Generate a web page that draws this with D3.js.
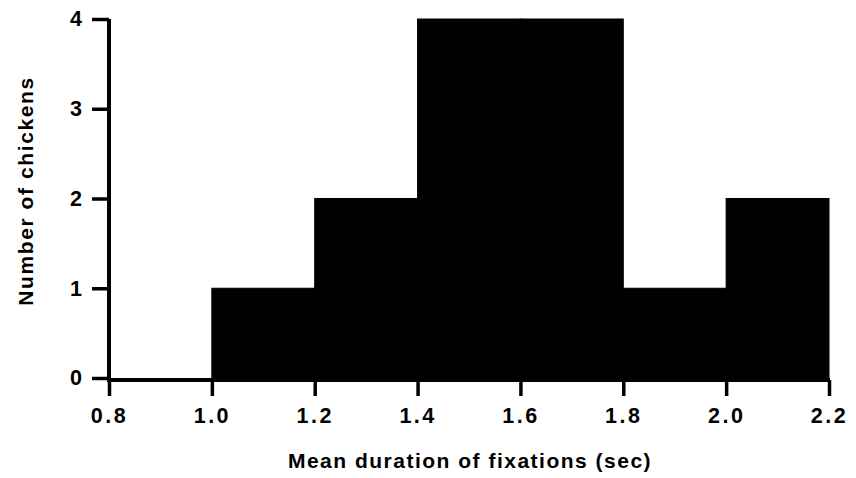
<!DOCTYPE html>
<html><head><meta charset="utf-8">
<script src="https://cdn.jsdelivr.net/npm/d3@7"></script>
<style>body{margin:0;background:#fff}svg{display:block}</style>
</head><body>
<script>
const binStarts = [0.8, 1.0, 1.2, 1.4, 1.6, 1.8, 2.0];
const binWidth = 0.2;
const counts = [0, 1, 2, 4, 4, 1, 2];
const xTicks = [0.8, 1.0, 1.2, 1.4, 1.6, 1.8, 2.0, 2.2];
const yTicks = [0, 1, 2, 3, 4];
const xTitle = "Mean duration of fixations (sec)";
const yTitle = "Number of chickens";

const W = 856, H = 478;
const svg = d3.select("body").append("svg").attr("width", W).attr("height", H);
const x = d3.scaleLinear().domain([0.8, 2.2]).range([109, 829]);
const y = d3.scaleLinear().domain([0, 4]).range([378, 19]);
const font = "'Liberation Sans', Arial, Helvetica, sans-serif";

// bars
svg.append("g").selectAll("rect").data(binStarts.map((s, i) => ({s, c: counts[i]})).filter(d => d.c > 0))
  .enter().append("rect")
  .attr("x", d => x(d.s)).attr("width", d => x(d.s + binWidth) - x(d.s))
  .attr("y", d => y(d.c)).attr("height", d => y(0) - y(d.c) + 2)
  .attr("fill", "#000").attr("stroke", "#000").attr("stroke-width", 1);

// x axis
const xa = svg.append("g").attr("transform", "translate(0,380)")
  .call(d3.axisBottom(x).tickValues(xTicks).tickFormat(d3.format(".1f")).tickSize(16).tickPadding(12));
xa.select(".domain").attr("stroke-width", 4).attr("d", `M${x(0.8)-2},0H${x(2.2)+1}`);
xa.selectAll(".tick line").attr("stroke-width", 3.5);
xa.selectAll("text").attr("font-family", font).attr("font-weight", "bold").attr("font-size", 21.5)
  .attr("letter-spacing", "2.5px").attr("fill", "#000");

// y axis
const ya = svg.append("g").attr("transform", "translate(109,0)")
  .call(d3.axisLeft(y).tickValues(yTicks).tickFormat(d3.format("d")).tickSize(17).tickPadding(10));
ya.select(".domain").attr("stroke-width", 4).attr("d", `M0,${y(4)}V${y(0)+4}`);
ya.selectAll(".tick line").attr("stroke-width", 3.5);
ya.selectAll("text").attr("font-family", font).attr("font-weight", "bold").attr("font-size", 21.5).attr("fill", "#000");

// titles
svg.append("text").attr("x", 470).attr("y", 468).attr("text-anchor", "middle")
  .attr("font-family", font).attr("font-weight", "bold").attr("font-size", 21)
  .attr("letter-spacing", "1.5px").text(xTitle);
svg.append("text").attr("transform", "translate(33,191) rotate(-90)").attr("text-anchor", "middle")
  .attr("font-family", font).attr("font-weight", "bold").attr("font-size", 21)
  .attr("letter-spacing", "1.6px").text(yTitle);
</script>
</body></html>
